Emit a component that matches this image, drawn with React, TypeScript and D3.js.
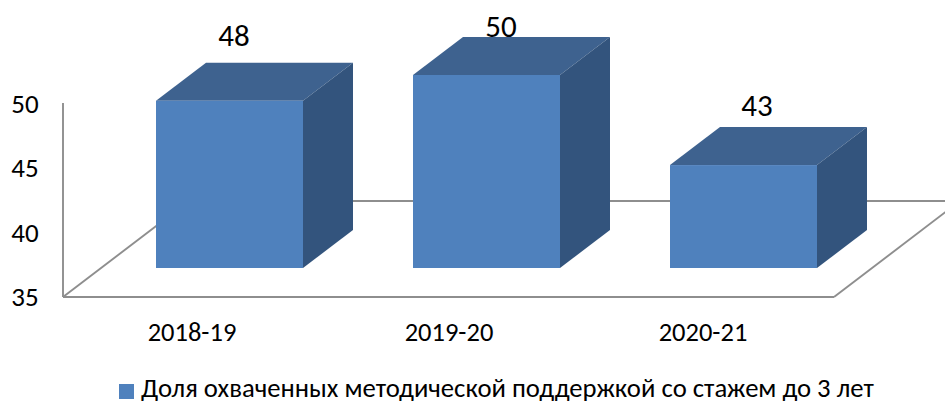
import React from "react";
import * as d3 from "d3";

const categories = ["2018-19", "2019-20", "2020-21"];
const values = [48, 50, 43];
const yTicks = [35, 40, 45, 50];
const legendLabel = "Доля охваченных методической поддержкой со стажем до 3 лет";

const W = 945;
const H = 403;
const FONT = "Carlito, Lato, 'Open Sans', sans-serif";
const FRONT = "#4F81BD";
const TOP = "#3E628F";
const SIDE = "#33547D";
const AXIS = "#8E8E8E";

const originX = 63;
const floorRight = 834;
const gap = 110 / 257;
const x = d3.scaleBand<string>().domain(categories).range([originX, floorRight]).paddingInner(gap).paddingOuter(gap / 2);
const y = d3.scaleLinear().domain([35, 50]).range([297, 104]);

// projection offsets of the pseudo-3D box
const barShiftX = 38, barShiftY = -29;
const depthX = 50, depthY = -38;
const floorDepthX = 126, floorDepthY = -96;
const labelShift = [[4.5, -17], [14.5, 0], [13.5, -11]];
const categoryShift = [0.5, 0.5, -2.5];

export default function App() {
  const base = y(35) + barShiftY;
  const poly = (pts: number[][]) => {
    const p = d3.path();
    pts.forEach(([a, b], i) => (i ? p.lineTo(a, b) : p.moveTo(a, b)));
    p.closePath();
    return p.toString();
  };
  return (
    <svg width={W} height={H} viewBox={`0 0 ${W} ${H}`} style={{ position: "absolute", left: 0, top: 0, display: "block", background: "#fff" }} fontFamily={FONT}>
      <g stroke={AXIS} strokeWidth={1.9} fill="none">
        <line x1={originX} y1={y(50) - 1} x2={originX} y2={y(35)} />
        <line x1={originX} y1={y(35)} x2={floorRight} y2={y(35)} />
        <line x1={originX} y1={y(35)} x2={originX + floorDepthX} y2={y(35) + floorDepthY} />
        <line x1={originX + floorDepthX} y1={y(35) + floorDepthY} x2={W} y2={y(35) + floorDepthY} />
        <line x1={floorRight} y1={y(35)} x2={floorRight + floorDepthX} y2={y(35) + floorDepthY} />
      </g>
      {yTicks.map((t) => (
        <text key={t} x={25} y={y(t) + 9} textAnchor="middle" fontSize={27} fill="#000">{t}</text>
      ))}
      {categories.map((c, i) => {
        const x0 = (x(c) as number) + barShiftX;
        const x1 = x0 + x.bandwidth();
        const top = y(values[i]) + barShiftY;
        return (
          <g key={c}>
            <path d={poly([[x0, top], [x1, top], [x1 + depthX, top + depthY], [x0 + depthX, top + depthY]])} fill={TOP} />
            <path d={poly([[x1, top], [x1 + depthX, top + depthY], [x1 + depthX, base + depthY], [x1, base]])} fill={SIDE} />
            <rect x={x0} y={top} width={x.bandwidth()} height={base - top} fill={FRONT} />
            <text x={(x0 + x1) / 2 + labelShift[i][0]} y={top + depthY + labelShift[i][1]} textAnchor="middle" fontSize={31} fill="#000">{values[i]}</text>
            <text x={(x(c) as number) + x.bandwidth() / 2 + categoryShift[i]} y={341} textAnchor="middle" fontSize={26.5} fill="#000">{c}</text>
          </g>
        );
      })}
      <rect x={119} y={384} width={15} height={15} fill={FRONT} />
      <text x={141} y={397} fontSize={26.7} fill="#000">{legendLabel}</text>
    </svg>
  );
}
